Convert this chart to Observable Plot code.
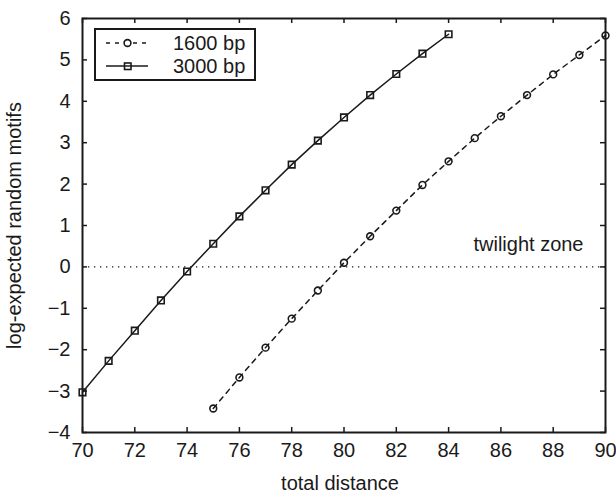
<!DOCTYPE html>
<html>
<head>
<meta charset="utf-8">
<script src="https://cdn.jsdelivr.net/npm/d3@7"></script>
<script src="https://cdn.jsdelivr.net/npm/@observablehq/plot@0.6"></script>
<style>
  html, body { margin: 0; padding: 0; background: #fff; }
  #chart svg { display: block; }
</style>
</head>
<body>
<div id="chart"></div>
<script>
// ---- data ----
const dist3000 = [70, 71, 72, 73, 74, 75, 76, 77, 78, 79, 80, 81, 82, 83, 84];
const val3000  = [-3.03, -2.27, -1.54, -0.81, -0.11, 0.56, 1.22, 1.85, 2.47, 3.05, 3.61, 4.15, 4.66, 5.15, 5.62];
const dist1600 = [75, 76, 77, 78, 79, 80, 81, 82, 83, 84, 85, 86, 87, 88, 89, 90];
const val1600  = [-3.42, -2.67, -1.95, -1.25, -0.57, 0.10, 0.74, 1.36, 1.98, 2.55, 3.11, 3.64, 4.15, 4.65, 5.12, 5.59];
const xTicks = [70, 72, 74, 76, 78, 80, 82, 84, 86, 88, 90];
const yTicks = [-4, -3, -2, -1, 0, 1, 2, 3, 4, 5, 6];
const seriesNames = ["1600 bp", "3000 bp"];
const xLabel = "total distance";
const yLabel = "log-expected random motifs";
const zoneLabel = "twilight zone";
const threshold = [0];

const s3000 = dist3000.map((d, i) => ({x: d, y: val3000[i]}));
const s1600 = dist1600.map((d, i) => ({x: d, y: val1600[i]}));

const INK = "#1a1a1a";
const FONT = "'Liberation Sans', Arial, Helvetica, sans-serif";
const FS = 20;
const fmt = d3.format("d");

const W = 616, H = 494;
const mL = 82, mR = 11, mT = 18, mB = 62;
const innerH = H - mT - mB;
const innerW = W - mL - mR;
const TL = 5;

const chart = Plot.plot({
  width: W,
  height: H,
  marginLeft: mL,
  marginRight: mR,
  marginTop: mT,
  marginBottom: mB,
  style: {fontFamily: FONT, fontSize: FS + "px", color: INK, background: "#fff"},
  x: {domain: [70, 90]},
  y: {domain: [-4, 6]},
  marks: [
    Plot.ruleY(threshold, {stroke: INK, strokeWidth: 1.3, strokeDasharray: "1.3,4.7"}),
    Plot.line(s3000, {x: "x", y: "y", stroke: INK, strokeWidth: 1.5}),
    Plot.dot(s3000, {x: "x", y: "y", symbol: "square", r: 3.7, fill: "none", stroke: INK, strokeWidth: 1.6}),
    Plot.line(s1600, {x: "x", y: "y", stroke: INK, strokeWidth: 1.5, strokeDasharray: "5,5"}),
    Plot.dot(s1600, {x: "x", y: "y", symbol: "circle", r: 3.4, fill: "none", stroke: INK, strokeWidth: 1.6}),
    Plot.text([zoneLabel], {x: 90, y: threshold[0], textAnchor: "end", lineAnchor: "bottom", dx: -22, dy: -16, fill: INK, fontSize: FS}),
    // inward ticks (bottom, top, left, right)
    Plot.tickX(xTicks, {x: d => d, insetTop: innerH - TL, stroke: INK, strokeWidth: 1.5}),
    Plot.tickX(xTicks, {x: d => d, insetBottom: innerH - TL, stroke: INK, strokeWidth: 1.5}),
    Plot.tickY(yTicks, {y: d => d, insetRight: innerW - TL, stroke: INK, strokeWidth: 1.5}),
    Plot.tickY(yTicks, {y: d => d, insetLeft: innerW - TL, stroke: INK, strokeWidth: 1.5}),
    Plot.axisX(xTicks, {tickSize: 0, tickPadding: 10, tickFormat: fmt, label: null, fill: INK, fontSize: FS}),
    Plot.axisY(yTicks, {tickSize: 0, tickPadding: 12, tickFormat: fmt, label: null, fill: INK, fontSize: FS}),
    Plot.frame({stroke: INK, strokeWidth: 2}),
    Plot.text([xLabel], {frameAnchor: "bottom", textAnchor: "middle", lineAnchor: "middle", dy: 51, dx: -4, fill: INK, fontSize: FS}),
    Plot.text([yLabel], {frameAnchor: "left", textAnchor: "middle", lineAnchor: "middle", rotate: -90, dx: -68, fill: INK, fontSize: FS})
  ]
});

// ---- legend (layout) ----
const svg = d3.select(chart);
const lg = svg.append("g").attr("font-family", FONT).attr("font-size", FS).attr("text-anchor", "start");
lg.append("rect").attr("x", 95).attr("y", 29).attr("width", 160).attr("height", 51)
  .attr("fill", "#fff").attr("stroke", INK).attr("stroke-width", 2);
const rows = [
  {name: seriesNames[0], y: 43, dash: "4,5", sym: "circle"},
  {name: seriesNames[1], y: 66, dash: null, sym: "square"}
];
rows.forEach(r => {
  const ln = lg.append("line").attr("x1", 106).attr("x2", 148).attr("y1", r.y).attr("y2", r.y)
    .attr("stroke", INK).attr("stroke-width", 1.5);
  if (r.dash) ln.attr("stroke-dasharray", r.dash);
  if (r.sym === "circle") {
    lg.append("circle").attr("cx", 127.5).attr("cy", r.y).attr("r", 3.4)
      .attr("fill", "#fff").attr("stroke", INK).attr("stroke-width", 1.6);
  } else {
    lg.append("rect").attr("x", 124.5).attr("y", r.y - 3).attr("width", 6.5).attr("height", 6.5)
      .attr("fill", "none").attr("stroke", INK).attr("stroke-width", 1.6);
  }
  lg.append("text").attr("x", 173).attr("y", r.y + 7).attr("fill", INK).attr("text-anchor", "start").text(r.name);
});

document.getElementById("chart").appendChild(chart);
</script>
</body>
</html>
